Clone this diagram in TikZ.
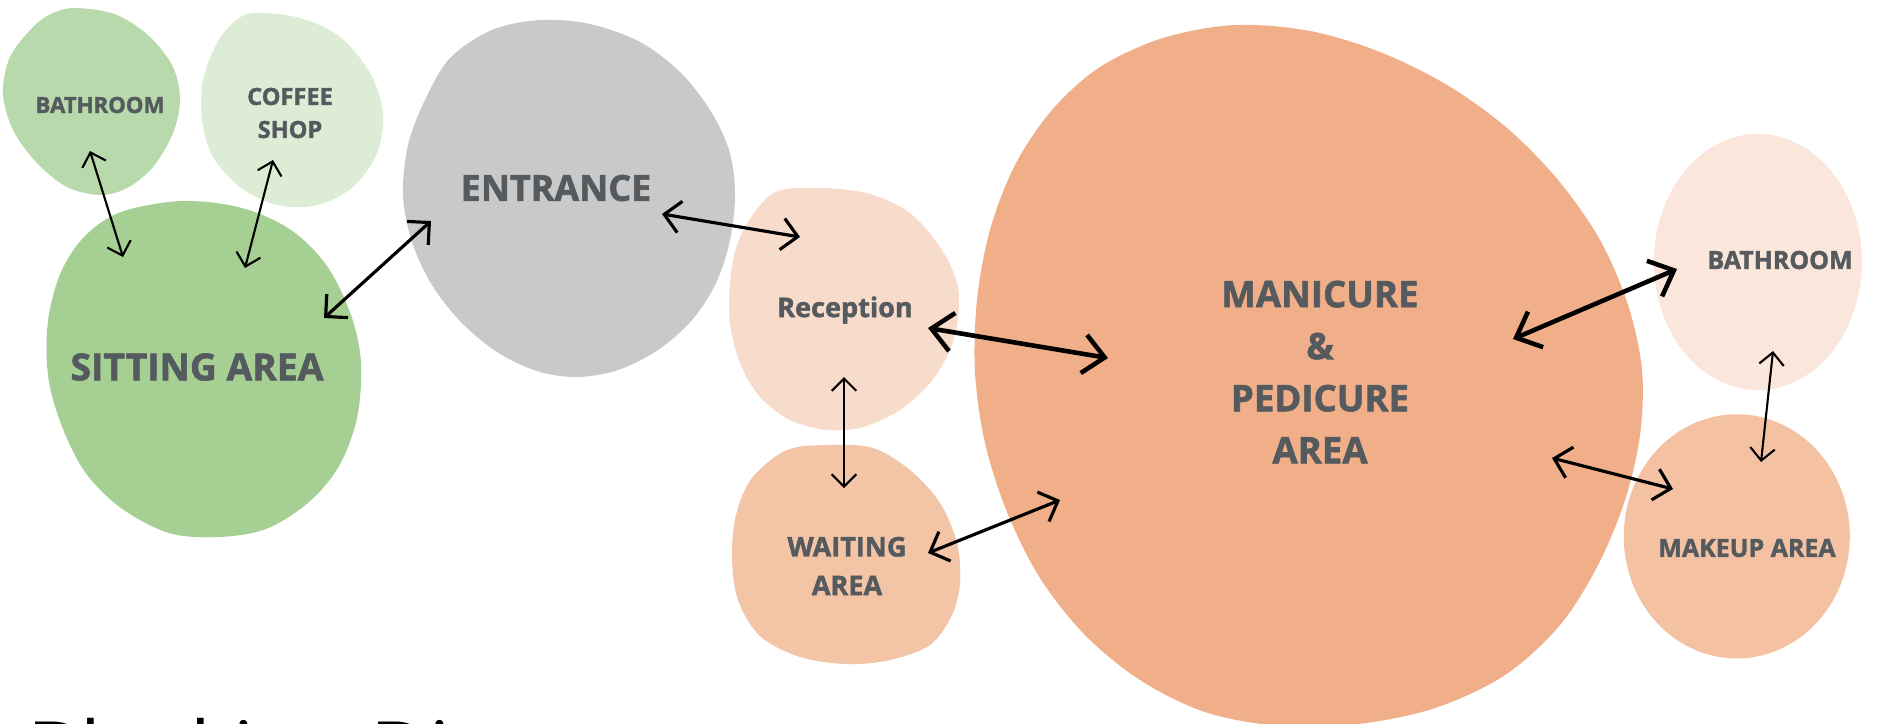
\documentclass[tikz,border=0pt]{standalone}
\usepackage{fontspec}
\setmainfont{Open Sans}[BoldFeatures={FakeBold=1.6}]
\usetikzlibrary{arrows.meta}
\definecolor{txt}{HTML}{555A5E}
\definecolor{bathL}{HTML}{B8D9AB}
\definecolor{coffee}{HTML}{DCECD5}
\definecolor{sitting}{HTML}{A6CF93}
\definecolor{entrance}{HTML}{C9C9C9}
\definecolor{reception}{HTML}{F8DCCB}
\definecolor{waiting}{HTML}{F4C4A6}
\definecolor{manicure}{HTML}{F0AF89}
\definecolor{bathR}{HTML}{FBE6DB}
\definecolor{makeup}{HTML}{F4C2A3}
% #1 colour, #2 cx, #3 cy, #4 rx, #5 ry, #6 egg amount, #7 egg direction
\newcommand{\myblob}[7]{%
  \fill[#1] plot[smooth cycle, samples=72, domain=0:355, variable=\t]
    ({#2+#4*cos(\t)*(1+#6*cos(\t-(#7)))},{#3+#5*sin(\t)*(1+#6*cos(\t-(#7)))});}
\tikzset{
  blob/.style={smooth cycle, tension=0.55},
  lbl/.style={text=txt, font=\bfseries, align=center, inner sep=0pt},
  conn/.style={{Straight Barb[length=3.5pt,width=7pt]}-{Straight Barb[length=3.5pt,width=7pt]}, line width=0.6pt, black},
  connmid/.style={{Straight Barb[length=4.5pt,width=9pt]}-{Straight Barb[length=4.5pt,width=9pt]}, line width=0.9pt, black},
  connthick/.style={{Straight Barb[length=6pt,width=11pt]}-{Straight Barb[length=6pt,width=11pt]}, line width=1.3pt, black},
}
\begin{document}
\begin{tikzpicture}[x=0.01cm,y=-0.01cm]
\useasboundingbox (0,0) rectangle (1898,723);
\clip (0,0) rectangle (1898,723);
\fill[white] (0,0) rectangle (1898,723);

% blobs
\fill[bathL] plot[blob] coordinates {(77,8) (117,15) (150,37) (173,67) (180,100) (173,133) (153,167) (127,188) (100,195) (67,187) (37,163) (13,130) (3,93) (10,57) (33,27) (53,13)};
\fill[coffee] plot[blob] coordinates {(253,13) (300,18) (340,37) (370,73) (383,113) (377,153) (353,187) (317,205) (277,205) (240,187) (213,157) (202,120) (203,80) (217,43) (233,23)};
\fill[sitting] plot[blob] coordinates {(182,201) (242,208) (291,230) (327,266) (351,315) (361,363) (357,418) (339,466) (309,502) (266,529) (218,537) (169,533) (121,508) (85,472) (61,424) (48,375) (48,321) (61,272) (85,236) (121,212)};
\fill[entrance] plot[blob] coordinates {(425,100) (450,58) (492,30) (540,20) (590,24) (640,42) (680,72) (710,110) (729,150) (735,193) (730,240) (716,283) (692,320) (658,350) (618,370) (577,377) (537,371) (497,352) (461,322) (432,285) (412,242) (403,195) (408,145)};
\fill[reception] plot[blob] coordinates {(778,191) (822,188) (870,194) (910,213) (940,247) (957,283) (958,317) (950,350) (930,383) (900,410) (863,427) (827,430) (790,420) (760,397) (740,363) (730,323) (730,283) (737,245) (754,213)};
\fill[waiting] plot[blob] coordinates {(787,450) (830,445) (873,448) (910,470) (940,503) (957,543) (960,583) (952,615) (930,645) (890,660) (847,664) (800,657) (760,636) (738,600) (732,557) (736,515) (752,478)};
\fill[manicure] plot[blob] coordinates {(1235,25) (1310,31) (1380,52) (1447,85) (1507,128) (1558,180) (1600,240) (1628,305) (1642,370) (1640,435) (1625,500) (1598,565) (1560,625) (1505,675) (1435,708) (1358,724) (1280,726) (1205,712) (1140,680) (1085,635) (1040,578) (1007,512) (985,443) (975,372) (977,300) (990,230) (1015,165) (1052,110) (1100,67) (1163,38)};
\myblob{bathR}{1761}{262}{104}{128}{0.03}{180}
\myblob{makeup}{1741}{538}{113}{122}{0.04}{200}

% labels
\node[lbl, font=\bfseries\fontsize{6.3pt}{8pt}\selectfont] (bathl) at (100,105) {BATHROOM};
\node[lbl, font=\bfseries\fontsize{6.7pt}{9.4pt}\selectfont] (coffeel) at (290,113) {COFFEE\\SHOP};
\node[lbl, font=\bfseries\fontsize{10.6pt}{13pt}\selectfont] (sittingl) at (197,367) {SITTING AREA};
\node[lbl, font=\bfseries\fontsize{10.2pt}{13pt}\selectfont] (entl) at (556,188) {ENTRANCE};
\node[lbl, font=\bfseries\fontsize{7.7pt}{10pt}\selectfont] (recl) at (845,310) {Reception};
\node[lbl, font=\bfseries\fontsize{7.7pt}{11pt}\selectfont] (waitl) at (847,566) {WAITING\\AREA};
\node[lbl, font=\bfseries\fontsize{10.4pt}{14.8pt}\selectfont] (manl) at (1320,372) {MANICURE\\\&\\PEDICURE\\AREA};
\node[lbl, font=\bfseries\fontsize{7.1pt}{9pt}\selectfont] (bathrl) at (1780,260) {BATHROOM};
\node[lbl, font=\bfseries\fontsize{7.1pt}{9pt}\selectfont] (makel) at (1747,548) {MAKEUP AREA};
\node[anchor=base west, inner sep=0pt, text=black, font=\fontsize{23.3pt}{28pt}\selectfont] (title) at (27,780) {Blocking Diagram};

% connector end points
\coordinate (c1a) at (90,151);   \coordinate (c1b) at (123,257);
\coordinate (c2a) at (273,160);  \coordinate (c2b) at (245,268);
\coordinate (c3a) at (324,318);  \coordinate (c3b) at (431,221);
\coordinate (c4a) at (662,214);  \coordinate (c4b) at (800,237);
\coordinate (c5a) at (928,328);  \coordinate (c5b) at (1108,358);
\coordinate (c6a) at (844,377);  \coordinate (c6b) at (844,488);
\coordinate (c7a) at (928,553);  \coordinate (c7b) at (1060,500);
\coordinate (c8a) at (1513,339); \coordinate (c8b) at (1677,269);
\coordinate (c9a) at (1552,458); \coordinate (c9b) at (1673,489);
\coordinate (c10a) at (1773,351); \coordinate (c10b) at (1761,462);

\draw[conn] (c1a) -- (c1b);
\draw[conn] (c2a) -- (c2b);
\draw[connmid] (c3a) -- (c3b);
\draw[connmid] (c4a) -- (c4b);
\draw[connthick] (c5a) -- (c5b);
\draw[conn] (c6a) -- (c6b);
\draw[connmid] (c7a) -- (c7b);
\draw[connthick] (c8a) -- (c8b);
\draw[connmid] (c9a) -- (c9b);
\draw[conn] (c10a) -- (c10b);
\end{tikzpicture}
\end{document}
